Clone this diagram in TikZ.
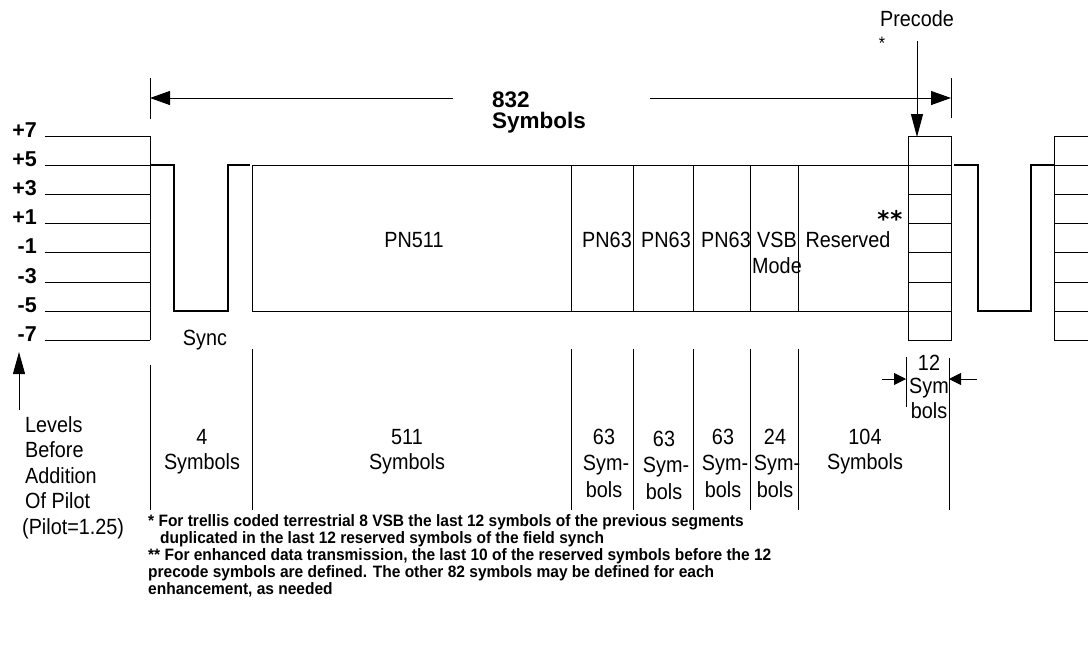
\documentclass[tikz,border=0pt]{standalone}
\usepackage{fontspec}
\setmainfont{Liberation Sans}
\newfontfamily\narrowfont[FakeStretch=0.9]{Liberation Sans}
\newfontfamily\notefont[FakeStretch=0.94]{Liberation Sans}
\newfontfamily\starfont{DejaVu Sans}
\usetikzlibrary{arrows.meta}
\begin{document}
\begin{tikzpicture}[x=1pt,y=-1pt,
  thinln/.style={line width=0.9pt},
  wave/.style={line width=2.3pt},
  txt/.style={font=\narrowfont\fontsize{22}{26}\selectfont, inner sep=0pt, anchor=base},
  txtw/.style={txt, anchor=base west},
  lvl/.style={font=\bfseries\fontsize{21.5}{24}\selectfont, inner sep=0pt, anchor=base east},
  big/.style={font=\bfseries\fontsize{22.5}{26}\selectfont, inner sep=0pt, anchor=base west},
  note/.style={font=\notefont\bfseries\fontsize{16.5}{18}\selectfont, inner sep=0pt, anchor=base west},
  bigtip/.style={-{Triangle[length=20pt,width=14pt]}, line width=0.9pt},
  longtip/.style={-{Triangle[length=23pt,width=12pt]}, line width=0.9pt},
  smalltip/.style={-{Triangle[length=12pt,width=12pt]}, line width=0.9pt},
]
\useasboundingbox (0,0) rectangle (1088,649);
\fill[white] (0,0) rectangle (1088,649);

% level lines and labels
\foreach \lab [count=\i from 0] in {+7,+5,+3,+1,-1,-3,-5,-7}{
  \pgfmathsetmacro\yy{136+29.2*\i}
  \draw[thinln] (45,\yy) -- (150,\yy);
  \node[lvl] (lv\i) at (37,\yy+1) {\lab};
  \draw[thinln] (1054,\yy) -- (1088,\yy);
}
\draw[thinln] (150,136) -- (150,340.4);
\draw[thinln] (1054,136) -- (1054,340.4);

% sync waveforms
\draw[wave] (150,165.2) -- (174,165.2) -- (174,311.2) -- (228,311.2) -- (228,165.2) -- (250,165.2);
\draw[wave] (954,165.2) -- (978,165.2) -- (978,311.2) -- (1031,311.2) -- (1031,165.2) -- (1054,165.2);

% main segment box
\draw[thinln] (252,165.2) rectangle (908,311.2);
\foreach \x in {571,633,693,750,798}{
  \draw[thinln] (\x,165.2) -- (\x,311.2);
}

% precode box
\draw[thinln] (908,136) rectangle (951,340.4);
\foreach \i in {1,...,6}{
  \pgfmathsetmacro\yy{136+29.2*\i}
  \draw[thinln] (908,\yy) -- (951,\yy);
}

% labels inside
\node[txt] (pn511) at (414,247) {PN511};
\node[txt] (pn63a) at (607,247) {PN63};
\node[txt] (pn63b) at (666,247) {PN63};
\node[txt] (pn63c) at (726,247) {PN63};
\node[txt] (vsb) at (777,247) {VSB};
\node[txt] (mode) at (777,273) {Mode};
\node[txt] (resv) at (848,247) {Reserved};
\node[font=\starfont\bfseries\fontsize{23}{26}\selectfont, inner sep=0pt, anchor=base] (stars) at (890,227) {*\kern1pt*};
\node[txt] (sync) at (205,345) {Sync};

% 832 symbols dimension
\draw[thinln] (150,78) -- (150,119);
\draw[thinln] (951,78) -- (951,118);
\coordinate (tickL) at (150,98);
\coordinate (tickR) at (951,98);
\coordinate (arL) at (453,98);
\coordinate (arR) at (650,98);
\node[big] (n832) at (492,107) {832};
\node[big] (nsym) at (492,128) {Symbols};
\draw[bigtip] (arL) -- (tickL);
\draw[bigtip] (arR) -- (tickR);

% precode pointer
\node[txt] (precode) at (917,26) {Precode};
\node[font=\narrowfont\fontsize{18}{20}\selectfont, inner sep=0pt, anchor=base] (pstar) at (882,49) {*};
\coordinate (pcA) at (917,41);
\coordinate (pcB) at (917,137);
\draw[longtip] (pcA) -- (pcB);

% levels caption
\coordinate (lvA) at (19,410);
\coordinate (lvB) at (19,352);
\draw[-{Triangle[length=22pt,width=12pt]}, line width=0.9pt] (lvA) -- (lvB);
\node[txtw] (cap1) at (25,432) {Levels};
\node[txtw] (cap2) at (25,457) {Before};
\node[txtw] (cap3) at (25,483) {Addition};
\node[txtw] (cap4) at (25,508) {Of Pilot};
\node[txtw] (cap5) at (22,534) {(Pilot=1.25)};

% lower dividers
\draw[thinln] (150,365) -- (150,510);
\foreach \x in {252,571,633,693,750,798}{
  \draw[thinln] (\x,349) -- (\x,510);
}
\draw[thinln] (906,357) -- (906,407);
\draw[thinln] (949,358) -- (949,510);
\coordinate (w12a) at (882,379);
\coordinate (w12b) at (906,379);
\coordinate (w12c) at (977,379);
\coordinate (w12d) at (949,379);
\draw[smalltip] (w12a) -- (w12b);
\draw[smalltip] (w12c) -- (w12d);

% lower labels
\node[txt] (b4a) at (202,444) {4};
\node[txt] (b4b) at (202,469) {Symbols};
\node[txt] (b511a) at (407,444) {511};
\node[txt] (b511b) at (407,469) {Symbols};
\node[txt] (b63aa) at (604,444) {63};
\node[txt] (b63ab) at (606,470) {Sym-};
\node[txt] (b63ac) at (604,497) {bols};
\node[txt] (b63ba) at (664,446) {63};
\node[txt] (b63bb) at (666,472) {Sym-};
\node[txt] (b63bc) at (664,499) {bols};
\node[txt] (b63ca) at (723,444) {63};
\node[txt] (b63cb) at (725,470) {Sym-};
\node[txt] (b63cc) at (723,497) {bols};
\node[txt] (b24a) at (775,444) {24};
\node[txt] (b24b) at (777,470) {Sym-};
\node[txt] (b24c) at (775,497) {bols};
\node[txt] (b104a) at (865,444) {104};
\node[txt] (b104b) at (865,469) {Symbols};
\node[txt] (b12a) at (929,370) {12};
\node[txt] (b12b) at (929,393) {Sym};
\node[txt] (b12c) at (929,418) {bols};

% footnotes
\node[note] (f1) at (148,526) {* For trellis coded terrestrial 8 VSB the last 12 symbols of the previous segments};
\node[note] (f2) at (160,543) {duplicated in the last 12 reserved symbols of the field synch};
\node[note] (f3) at (148,560) {** For enhanced data transmission, the last 10 of the reserved symbols before the 12};
\node[note] (f4) at (148,577) {precode symbols are defined. The other 82 symbols may be defined for each};
\node[note] (f5) at (148,594) {enhancement, as needed};
\end{tikzpicture}
\end{document}
